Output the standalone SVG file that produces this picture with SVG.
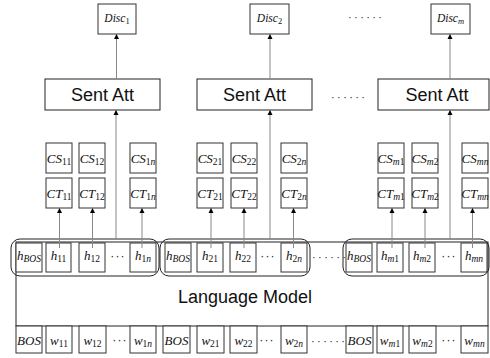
<svg xmlns="http://www.w3.org/2000/svg" width="490" height="358" viewBox="0 0 490 358">
<defs>
<marker id="ah" viewBox="0 0 10 10" refX="10" refY="5" markerWidth="5" markerHeight="6" markerUnits="userSpaceOnUse" orient="auto">
<path d="M0,0 L10,5 L0,10 z" fill="#000"/>
</marker>
<style>
.bx{fill:#fff;stroke:#333;stroke-width:1}
.big{fill:#fff;stroke:#222;stroke-width:1}
.grp{fill:none;stroke:#222;stroke-width:1}
.ar{stroke:#888;stroke-width:1;fill:none;marker-end:url(#ah)}
.m{font-family:"Liberation Serif",serif;font-style:italic;font-size:13px;fill:#111;text-anchor:middle}
.d{font-family:"Liberation Serif",serif;font-style:italic;font-size:11.5px;fill:#111;text-anchor:middle}
.s{font-size:9.5px}
.u{font-style:normal}
.sa{font-family:"Liberation Sans",Arial,sans-serif;font-size:18px;fill:#111;text-anchor:middle}
.dots{font-family:"Liberation Sans",Arial,sans-serif;font-size:11px;fill:#222;letter-spacing:2.4px}
.dt3{font-family:"Liberation Sans",Arial,sans-serif;font-size:12px;fill:#222;letter-spacing:1.2px;text-anchor:middle}
</style>
</defs>

<g id="lm">
<rect x="16" y="242" width="472" height="84" class="big"/>
<text x="245" y="303" class="sa">Language Model</text>
</g>

<g id="disc1"><rect x="98" y="4" width="38" height="30" class="bx"/><text x="117" y="22" class="d">Disc<tspan class="u" font-size="8.5" dy="2">1</tspan></text></g>
<g id="disc2"><rect x="250" y="4" width="39" height="30" class="bx"/><text x="269.5" y="22" class="d">Disc<tspan class="u" font-size="8.5" dy="2">2</tspan></text></g>
<g id="discm"><rect x="431" y="4" width="39" height="30" class="bx"/><text x="450.5" y="22" class="d">Disc<tspan font-size="8.5" dy="2">m</tspan></text></g>

<g id="sent1"><rect x="45" y="79" width="115" height="31" class="big"/><text x="102.5" y="101" class="sa">Sent Att</text></g>
<g id="sent2"><rect x="197" y="79" width="115" height="31" class="big"/><text x="254.5" y="101" class="sa">Sent Att</text></g>
<g id="sentm"><rect x="378" y="79" width="111" height="31" class="big"/><text x="437" y="101" class="sa">Sent Att</text></g>

<g id="cs11"><rect x="46" y="143" width="26" height="30" class="bx"/><text x="59" y="163" class="m">CS<tspan class="s u" dy="2">11</tspan></text></g>
<g id="cs12"><rect x="79" y="143" width="26" height="30" class="bx"/><text x="92" y="163" class="m">CS<tspan class="s u" dy="2">12</tspan></text></g>
<g id="cs1n"><rect x="130" y="143" width="26" height="30" class="bx"/><text x="143" y="163" class="m">CS<tspan class="s" dy="2"><tspan class="u">1</tspan>n</tspan></text></g>
<g id="cs21"><rect x="197" y="143" width="26" height="30" class="bx"/><text x="210" y="163" class="m">CS<tspan class="s u" dy="2">21</tspan></text></g>
<g id="cs22"><rect x="231" y="143" width="26" height="30" class="bx"/><text x="244" y="163" class="m">CS<tspan class="s u" dy="2">22</tspan></text></g>
<g id="cs2n"><rect x="281" y="143" width="26" height="30" class="bx"/><text x="294" y="163" class="m">CS<tspan class="s" dy="2"><tspan class="u">2</tspan>n</tspan></text></g>
<g id="csm1"><rect x="378" y="143" width="26" height="30" class="bx"/><text x="391" y="163" class="m">CS<tspan class="s" dy="2">m<tspan class="u">1</tspan></tspan></text></g>
<g id="csm2"><rect x="412" y="143" width="26" height="30" class="bx"/><text x="425" y="163" class="m">CS<tspan class="s" dy="2">m<tspan class="u">2</tspan></tspan></text></g>
<g id="csmn"><rect x="462" y="143" width="26" height="30" class="bx"/><text x="475" y="163" class="m">CS<tspan class="s" dy="2">mn</tspan></text></g>

<g id="ct11"><rect x="46" y="178" width="26" height="30" class="bx"/><text x="59" y="198" class="m">CT<tspan class="s u" dy="2">11</tspan></text></g>
<g id="ct12"><rect x="79" y="178" width="26" height="30" class="bx"/><text x="92" y="198" class="m">CT<tspan class="s u" dy="2">12</tspan></text></g>
<g id="ct1n"><rect x="130" y="178" width="26" height="30" class="bx"/><text x="143" y="198" class="m">CT<tspan class="s" dy="2"><tspan class="u">1</tspan>n</tspan></text></g>
<g id="ct21"><rect x="197" y="178" width="26" height="30" class="bx"/><text x="210" y="198" class="m">CT<tspan class="s u" dy="2">21</tspan></text></g>
<g id="ct22"><rect x="231" y="178" width="26" height="30" class="bx"/><text x="244" y="198" class="m">CT<tspan class="s u" dy="2">22</tspan></text></g>
<g id="ct2n"><rect x="281" y="178" width="26" height="30" class="bx"/><text x="294" y="198" class="m">CT<tspan class="s" dy="2"><tspan class="u">2</tspan>n</tspan></text></g>
<g id="ctm1"><rect x="378" y="178" width="26" height="30" class="bx"/><text x="391" y="198" class="m">CT<tspan class="s" dy="2">m<tspan class="u">1</tspan></tspan></text></g>
<g id="ctm2"><rect x="412" y="178" width="26" height="30" class="bx"/><text x="425" y="198" class="m">CT<tspan class="s" dy="2">m<tspan class="u">2</tspan></tspan></text></g>
<g id="ctmn"><rect x="462" y="178" width="26" height="30" class="bx"/><text x="475" y="198" class="m">CT<tspan class="s" dy="2">mn</tspan></text></g>

<g id="hrow">
<rect x="16" y="243" width="26" height="29" class="bx"/><text x="29" y="260" class="m">h<tspan class="s" dy="2">BOS</tspan></text>
<rect x="46" y="243" width="25" height="29" class="bx"/><text x="58.5" y="260" class="m">h<tspan class="s u" dy="2">11</tspan></text>
<rect x="79" y="243" width="26" height="29" class="bx"/><text x="92" y="260" class="m">h<tspan class="s u" dy="2">12</tspan></text>
<rect x="130" y="243" width="26" height="29" class="bx"/><text x="143" y="260" class="m">h<tspan class="s" dy="2"><tspan class="u">1</tspan>n</tspan></text>
<rect x="165" y="243" width="26" height="29" class="bx"/><text x="178" y="260" class="m">h<tspan class="s" dy="2">BOS</tspan></text>
<rect x="197" y="243" width="26" height="29" class="bx"/><text x="210" y="260" class="m">h<tspan class="s u" dy="2">21</tspan></text>
<rect x="230" y="243" width="26" height="29" class="bx"/><text x="243" y="260" class="m">h<tspan class="s u" dy="2">22</tspan></text>
<rect x="281" y="243" width="26" height="29" class="bx"/><text x="294" y="260" class="m">h<tspan class="s" dy="2"><tspan class="u">2</tspan>n</tspan></text>
<rect x="346" y="243" width="26" height="29" class="bx"/><text x="359" y="260" class="m">h<tspan class="s" dy="2">BOS</tspan></text>
<rect x="377" y="243" width="26" height="29" class="bx"/><text x="390" y="260" class="m">h<tspan class="s" dy="2">m<tspan class="u">1</tspan></tspan></text>
<rect x="409" y="243" width="26" height="29" class="bx"/><text x="422" y="260" class="m">h<tspan class="s" dy="2">m<tspan class="u">2</tspan></tspan></text>
<rect x="461" y="243" width="26" height="29" class="bx"/><text x="474" y="260" class="m">h<tspan class="s" dy="2">mn</tspan></text>
<text x="118" y="260" class="dt3">···</text>
<text x="268" y="260" class="dt3">···</text>
<text x="449" y="260" class="dt3">···</text>
</g>

<g id="groups">
<rect x="11" y="239" width="148" height="37" rx="9" class="grp"/>
<rect x="160" y="239" width="150" height="37" rx="9" class="grp"/>
<rect x="343" y="239" width="146" height="37" rx="9" class="grp"/>
</g>

<g id="wrow">
<rect x="16" y="326" width="26" height="27" class="bx"/><text x="29" y="345" class="m" font-size="12.5">BOS</text>
<rect x="46" y="326" width="26" height="27" class="bx"/><text x="59" y="345" class="m">w<tspan class="s u" dy="2">11</tspan></text>
<rect x="79" y="326" width="27" height="27" class="bx"/><text x="92.5" y="345" class="m">w<tspan class="s u" dy="2">12</tspan></text>
<rect x="130" y="326" width="26" height="27" class="bx"/><text x="143" y="345" class="m">w<tspan class="s" dy="2"><tspan class="u">1</tspan>n</tspan></text>
<rect x="163" y="326" width="27" height="27" class="bx"/><text x="176.5" y="345" class="m" font-size="12.5">BOS</text>
<rect x="197" y="326" width="27" height="27" class="bx"/><text x="210.5" y="345" class="m">w<tspan class="s u" dy="2">21</tspan></text>
<rect x="230" y="326" width="27" height="27" class="bx"/><text x="243.5" y="345" class="m">w<tspan class="s u" dy="2">22</tspan></text>
<rect x="281" y="326" width="26" height="27" class="bx"/><text x="294" y="345" class="m">w<tspan class="s" dy="2"><tspan class="u">2</tspan>n</tspan></text>
<rect x="346" y="326" width="27" height="27" class="bx"/><text x="359.5" y="345" class="m" font-size="12.5">BOS</text>
<rect x="377" y="326" width="26" height="27" class="bx"/><text x="390" y="345" class="m">w<tspan class="s" dy="2">m<tspan class="u">1</tspan></tspan></text>
<rect x="409" y="326" width="27" height="27" class="bx"/><text x="422.5" y="345" class="m">w<tspan class="s" dy="2">m<tspan class="u">2</tspan></tspan></text>
<rect x="461" y="326" width="27" height="27" class="bx"/><text x="474.5" y="345" class="m">w<tspan class="s" dy="2">mn</tspan></text>
<text x="120" y="344" class="dt3">···</text>
<text x="267" y="344" class="dt3">···</text>
<text x="449" y="344" class="dt3">···</text>
</g>

<g id="ellipses">
<text x="348" y="21" class="dots">······</text>
<text x="331" y="101" class="dots">······</text>
<text x="312" y="261" class="dots">······</text>
<text x="311" y="345" class="dots">······</text>
</g>

<g id="connectors">
<line x1="116.5" y1="79" x2="116.5" y2="34" class="ar"/>
<line x1="270" y1="79" x2="270" y2="34" class="ar"/>
<line x1="450" y1="79" x2="450" y2="34" class="ar"/>
<line x1="116" y1="239" x2="116" y2="110" class="ar"/>
<line x1="270" y1="239" x2="270" y2="110" class="ar"/>
<line x1="450" y1="239" x2="450" y2="110" class="ar"/>
<line x1="59.5" y1="248" x2="59.5" y2="208" class="ar"/>
<line x1="92.5" y1="248" x2="92.5" y2="208" class="ar"/>
<line x1="142" y1="248" x2="142" y2="208" class="ar"/>
<line x1="211" y1="248" x2="211" y2="208" class="ar"/>
<line x1="244" y1="248" x2="244" y2="208" class="ar"/>
<line x1="293.5" y1="248" x2="293.5" y2="208" class="ar"/>
<line x1="392" y1="248" x2="392" y2="208" class="ar"/>
<line x1="425" y1="248" x2="425" y2="208" class="ar"/>
<line x1="472.5" y1="248" x2="472.5" y2="208" class="ar"/>
</g>
</svg>
